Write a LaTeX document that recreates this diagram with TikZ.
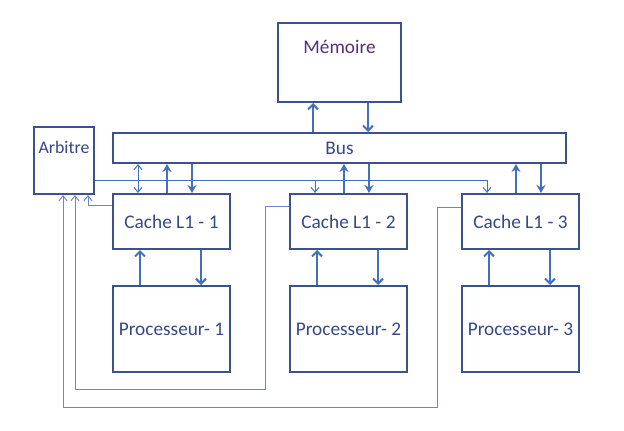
\documentclass[tikz,border=0pt]{standalone}
\usepackage{fontspec}
\setmainfont{Carlito}
\usetikzlibrary{arrows.meta}
\definecolor{boxline}{RGB}{60,82,142}
\definecolor{arrline}{RGB}{68,110,190}
\definecolor{txtcol}{RGB}{55,72,135}
\definecolor{memcol}{RGB}{88,46,122}
\definecolor{fbline}{RGB}{105,135,200}
\begin{document}
\begin{tikzpicture}[x=1pt,y=-1pt,font=\fontsize{19.3}{21}\selectfont,
	box/.style={draw=boxline,line width=2pt,fill=white,text=txtcol,anchor=north west,inner sep=0pt},
	big/.style={draw=arrline,line width=2pt,-{Stealth[length=8pt,width=9pt]}},
	med/.style={draw=arrline,line width=2pt,-{Straight Barb[length=5pt,width=10pt]}},
	thinln/.style={draw=arrline,line width=1pt},
	fb/.style={draw=fbline,line width=1pt},
	tip/.style={-{Straight Barb[length=5pt,width=8pt]}}]
	\useasboundingbox (0,0) rectangle (624,431);
	% boxes
	\node[box,minimum width=123pt,minimum height=79pt,label={[anchor=center,yshift=-25pt,text=memcol]north:Mémoire}] (mem) at (277,22) {};
	\node[box,minimum width=453pt,minimum height=30pt] (bus) at (112,132) {Bus};
	\node[box,minimum width=60pt,minimum height=67pt,label={[anchor=center,yshift=-21pt,text=txtcol,font=\fontsize{17.8}{20}\selectfont]north:Arbitre}] (arb) at (33,126) {};
	\foreach \i/\x in {1/112,2/289,3/461}{
		\node[box,minimum width=117pt,minimum height=55pt] (c\i) at (\x,193) {Cache L1 - \i};
		\node[box,minimum width=117pt,minimum height=86pt] (p\i) at (\x,285) {Processeur- \i};
	}
	% memory <-> bus
	\coordinate (mu) at (313,0);
	\coordinate (md) at (368,0);
	\draw[med] (mu |- bus.north) -- (mu |- mem.south);
	\draw[med] (md |- mem.south) -- (md |- bus.north);
	% caches <-> bus, processors <-> caches
	\foreach \i in {1,2,3}{
		\path (c\i.north west) ++(55,0) coordinate (u\i) ++(25,0) coordinate (d\i);
		\path (c\i.north west) ++(26,0) coordinate (t\i);
		\path (p\i.north west) ++(28,0) coordinate (pu\i) ++(61,0) coordinate (pd\i);
		\draw[big] (u\i) -- (u\i |- bus.south);
		\draw[big] (d\i |- bus.south) -- (d\i);
		\draw[med] (pu\i) -- (pu\i |- c\i.south);
		\draw[med] (pd\i |- c\i.south) -- (pd\i);
	}
	% arbiter lines
	\coordinate (a1) at ([yshift=15pt]arb.south east);
	\draw[thinln,tip] (a1) -| (t3);
	\draw[thinln,tip] (a1 -| t2) -- (t2);
	\draw[thinln,{Straight Barb[length=5pt,width=8pt]}-{Straight Barb[length=5pt,width=8pt]}] (t1 |- bus.south) -- (t1);
	\path (arb.south west) ++(55,0) coordinate (f1) ++(-13,0) coordinate (f2) ++(-12,0) coordinate (f3);
	\draw[fb,tip] ([yshift=-12pt]c1.north west) -| (f1);
	\draw[fb,tip] ([yshift=-13pt]c2.north west) -- ++(-24,0) -- ++(0,183) -| (f2);
	\draw[fb,tip] ([yshift=-14pt]c3.north west) -- ++(-24,0) -- ++(0,200) -| (f3);
\end{tikzpicture}
\end{document}
